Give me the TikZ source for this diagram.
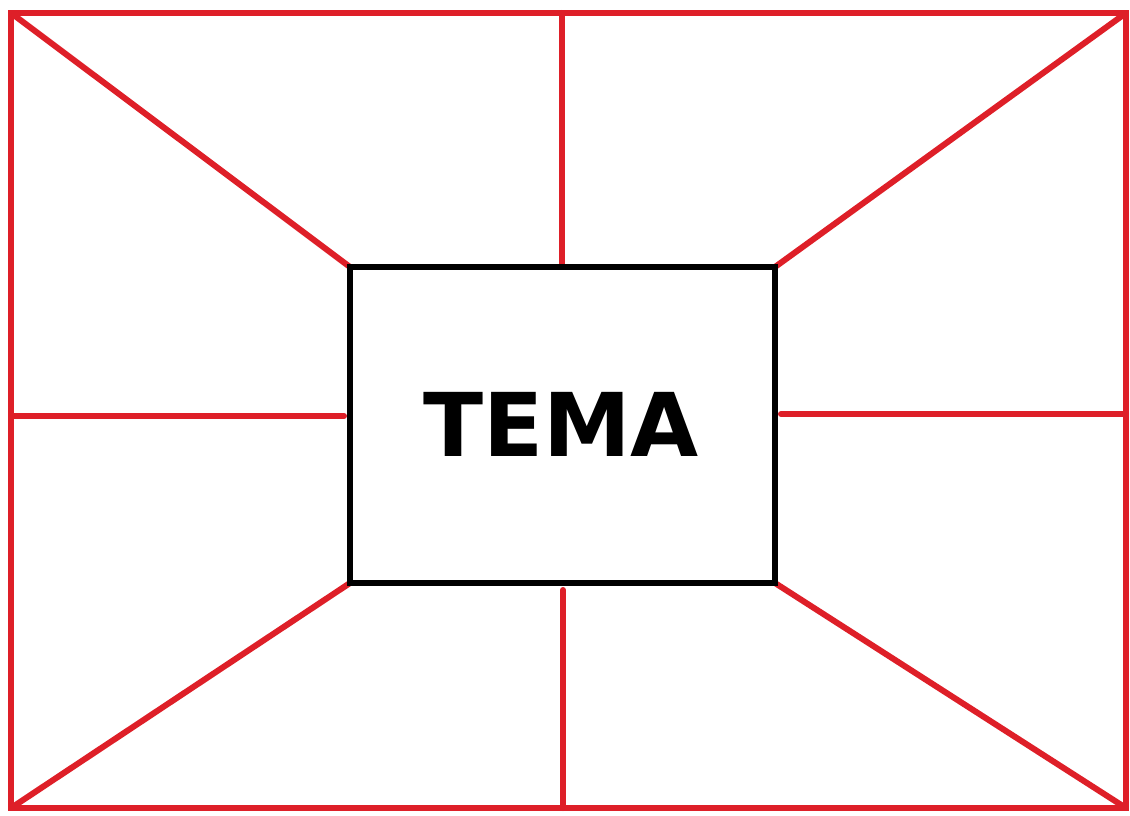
\documentclass[tikz,border=0pt]{standalone}
\usepackage{fontspec}
\newfontfamily\temafont{DejaVu Sans}
\pgfdeclarelayer{bg}
\pgfsetlayers{bg,main}
\definecolor{lred}{RGB}{222,31,40}
\begin{document}
\begin{tikzpicture}[x=1pt,y=-1pt,
  redline/.style={draw=lred,line width=6pt,line cap=round},
  frame/.style={draw=lred,line width=6pt,inner sep=0,outer sep=0,minimum width=1115pt,minimum height=795pt},
  temabox/.style={draw=black,line width=6.5pt,fill=white,inner sep=0,outer sep=0,minimum width=425pt,minimum height=316pt,
    font=\temafont\bfseries\fontsize{88}{88}\selectfont}]
\useasboundingbox (0,0) rectangle (1130,816);
\node[frame] (frame) at (568.5,410.5) {};
\node[temabox] (tema) at (562.5,425) {};
\node (title) at (561,424) {\temafont\bfseries\fontsize{88}{88}\selectfont TEMA};
\coordinate (tm) at (562,13);
\coordinate (bm) at (563,808);
\coordinate (ml) at (11,416);
\coordinate (mr) at (1126,414);
\begin{pgfonlayer}{bg}
\draw[redline] (frame.north west) -- (tema.north west);
\draw[redline] (frame.north east) -- (tema.north east);
\draw[redline] (frame.south west) -- (tema.south west);
\draw[redline] (frame.south east) -- (tema.south east);
\draw[redline] (tm) -- (tm |- tema.north);
\draw[redline,shorten >=7pt] (bm) -- (bm |- tema.south);
\draw[redline,shorten >=6pt] (ml) -- (ml -| tema.west);
\draw[redline,shorten >=6pt] (mr) -- (mr -| tema.east);
\end{pgfonlayer}
\end{tikzpicture}
\end{document}
